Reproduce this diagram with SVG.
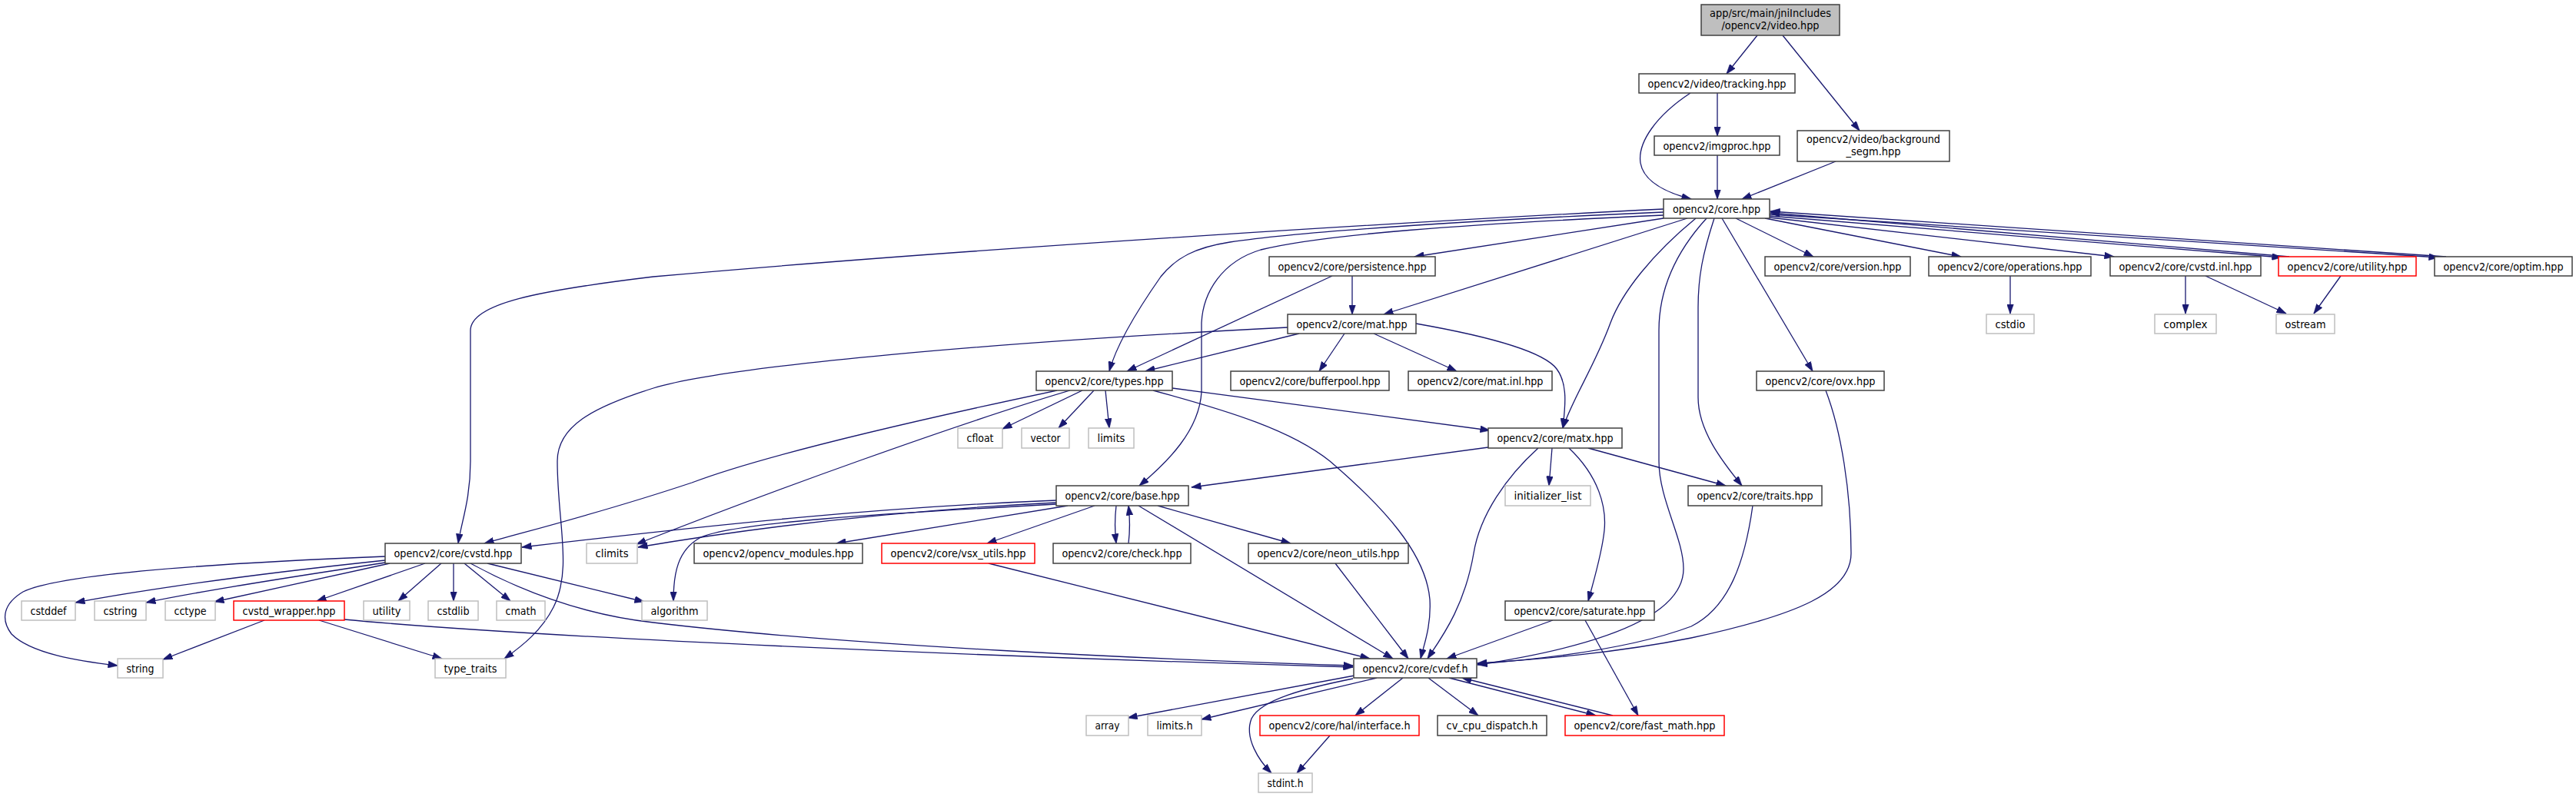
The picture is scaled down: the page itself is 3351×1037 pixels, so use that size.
<svg xmlns="http://www.w3.org/2000/svg" width="3351" height="1037" viewBox="0 0 3351 1037">
<style>
rect{fill:#fff;stroke:#404040;stroke-width:1.5}
.s rect{stroke:#bfbfbf}
.r rect{stroke:#ff0000}
.root rect{fill:#bfbfbf}
text{font-family:"DejaVu Sans Condensed","DejaVu Sans",sans-serif;font-stretch:condensed;font-size:14px;fill:#000;text-anchor:middle}
#edges path{fill:none;stroke:#191970;stroke-width:1.3;marker-end:url(#a)}
</style>
<defs>
<marker id="a" viewBox="0 0 13 9" refX="12.5" refY="4.5" markerWidth="13" markerHeight="9" markerUnits="userSpaceOnUse" orient="auto">
<path d="M0,0 L13,4.5 L0,9 z" fill="#191970" stroke="#191970" stroke-width="0.5"/>
</marker>
</defs>
<rect x="0" y="0" width="3351" height="1037" style="fill:#fff;stroke:none"/>
<g id="edges">
<path d="M2286,46 L2246,96"/>
<path d="M2319,46 L2419,170"/>
<path d="M2234,121 L2234,177"/>
<path d="M2199,121 C2155,150 2130,185 2134,212 C2138,235 2165,250 2200,259"/>
<path d="M2234,202 L2234,259"/>
<path d="M2388,210 L2266,259"/>
<path d="M2164,284 L1840,334"/>
<path d="M2195,284 L1800,409"/>
<path d="M2206,284 C2150,330 2110,380 2095,420 C2075,475 2045,520 2033,557"/>
<path d="M2220,284 C2178,330 2158,380 2158,430 L2158,600 C2158,650 2190,700 2190,740 C2190,790 2120,835 1922,865"/>
<path d="M2230,284 C2215,330 2209,360 2209,400 L2209,517 C2209,560 2240,600 2266,632"/>
<path d="M2240,284 L2358,483"/>
<path d="M2258,284 L2359,334"/>
<path d="M2296,284 L2551,334"/>
<path d="M2302,283 L2750,334"/>
<path d="M2302,281 L2968,335"/>
<path d="M2978,334 L2303,277"/>
<path d="M2302,279 L3172,335"/>
<path d="M3182,334 L2303,275"/>
<path d="M2164,272 C1900,285 1300,320 850,360 C700,378 612,395 612,430 L612,600 C612,650 600,680 596,707"/>
<path d="M2164,276 C1950,285 1700,300 1600,315 C1555,322 1530,335 1510,360 C1475,410 1452,450 1443,483"/>
<path d="M2164,280 C1900,292 1720,305 1640,325 C1590,340 1565,380 1563,420 L1563,510 C1560,560 1520,600 1482,632"/>
<path d="M1733,359 L1466,483"/>
<path d="M1759,359 L1759,409"/>
<path d="M1690,434 L1490,483"/>
<path d="M1675,426 C1300,445 950,475 850,505 C770,530 725,555 725,600 C725,680 745,740 720,790 C705,820 680,840 656,857"/>
<path d="M1749,434 L1716,483"/>
<path d="M1787,434 L1895,483"/>
<path d="M1842,421 C1950,440 2010,460 2025,480 C2040,500 2036,530 2033,557"/>
<path d="M1408,508 L1304,558"/>
<path d="M1423,508 L1377,557"/>
<path d="M1438,508 L1443,557"/>
<path d="M1392,508 C1250,550 1000,640 828,708"/>
<path d="M1375,508 C1200,545 1000,590 900,628 C780,668 690,690 630,707"/>
<path d="M1525,505 L1938,560"/>
<path d="M1500,508 C1600,535 1680,560 1730,600 C1800,660 1855,720 1860,780 C1862,815 1852,840 1848,857"/>
<path d="M1936,582 L1550,634"/>
<path d="M2019,583 L2015,632"/>
<path d="M2041,583 C2080,620 2090,660 2087,690 C2084,720 2072,760 2066,782"/>
<path d="M2066,583 L2245,632"/>
<path d="M2001,583 C1960,620 1925,670 1917,720 C1905,790 1875,830 1857,857"/>
<path d="M1374,651 C1150,660 950,680 679,712"/>
<path d="M1374,654 C1150,665 960,690 830,712"/>
<path d="M1374,656 C1150,668 950,680 910,700 C882,716 876,745 876,782"/>
<path d="M1389,658 L1088,707"/>
<path d="M1424,658 L1284,707"/>
<path d="M1452,658 C1450,675 1450,690 1452,707"/>
<path d="M1468,707 C1470,690 1470,675 1468,658"/>
<path d="M1481,658 L1812,857"/>
<path d="M1506,658 L1679,707"/>
<path d="M1286,733 L1782,857"/>
<path d="M1737,733 L1832,857"/>
<path d="M2020,807 L1882,857"/>
<path d="M2062,807 L2131,931"/>
<path d="M2280,658 C2270,730 2250,790 2200,815 C2120,845 2000,858 1922,864"/>
<path d="M2375,508 C2395,560 2408,640 2408,720 C2408,770 2340,800 2200,830 C2100,850 2000,858 1922,863"/>
<path d="M1885,882 L2076,931"/>
<path d="M2098,931 L1902,882"/>
<path d="M1825,882 L1763,931"/>
<path d="M1858,882 L1923,931"/>
<path d="M1762,879 L1467,934"/>
<path d="M1791,882 L1563,936"/>
<path d="M1760,883 C1700,895 1640,910 1628,935 C1618,960 1638,990 1654,1006"/>
<path d="M1730,957 L1687,1006"/>
<path d="M501,724 C300,732 80,745 30,770 C5,785 0,805 15,825 C40,850 100,860 153,866"/>
<path d="M501,729 C350,745 200,765 98,784"/>
<path d="M501,732 C400,748 280,765 190,784"/>
<path d="M507,733 L279,783"/>
<path d="M553,733 L412,782"/>
<path d="M574,733 L518,782"/>
<path d="M590,733 L590,782"/>
<path d="M604,733 L664,782"/>
<path d="M634,733 L838,783"/>
<path d="M612,733 C680,770 760,800 850,810 C1100,840 1500,858 1760,866"/>
<path d="M448,806 C700,830 1300,855 1760,868"/>
<path d="M344,807 L212,858"/>
<path d="M415,807 L575,857"/>
<path d="M2615,359 L2615,408"/>
<path d="M2843,359 L2843,408"/>
<path d="M2869,359 L2974,408"/>
<path d="M3045,359 L3010,408"/>
</g>
<g id="n0" class="root"><rect x="2213" y="6" width="180" height="40"/><text x="2303" y="22" textLength="158" lengthAdjust="spacingAndGlyphs">app/src/main/jniIncludes</text><text x="2303" y="38" textLength="127" lengthAdjust="spacingAndGlyphs">/opencv2/video.hpp</text></g>
<g id="n1"><rect x="2132" y="96" width="203" height="25"/><text x="2233.5" y="113.5" textLength="180" lengthAdjust="spacingAndGlyphs">opencv2/video/tracking.hpp</text></g>
<g id="n2"><rect x="2152" y="177" width="163" height="25"/><text x="2233.5" y="194.5" textLength="140" lengthAdjust="spacingAndGlyphs">opencv2/imgproc.hpp</text></g>
<g id="n3"><rect x="2338" y="170" width="198" height="40"/><text x="2437" y="186" textLength="174" lengthAdjust="spacingAndGlyphs">opencv2/video/background</text><text x="2437" y="202" textLength="71" lengthAdjust="spacingAndGlyphs">_segm.hpp</text></g>
<g id="n4"><rect x="2164" y="259" width="138" height="25"/><text x="2233" y="276.5" textLength="114" lengthAdjust="spacingAndGlyphs">opencv2/core.hpp</text></g>
<g id="n5"><rect x="1651" y="334" width="216" height="25"/><text x="1759" y="351.5" textLength="193" lengthAdjust="spacingAndGlyphs">opencv2/core/persistence.hpp</text></g>
<g id="n6"><rect x="2296" y="334" width="189" height="25"/><text x="2390.5" y="351.5" textLength="166" lengthAdjust="spacingAndGlyphs">opencv2/core/version.hpp</text></g>
<g id="n7"><rect x="2509" y="334" width="211" height="25"/><text x="2614.5" y="351.5" textLength="188" lengthAdjust="spacingAndGlyphs">opencv2/core/operations.hpp</text></g>
<g id="n8"><rect x="2745" y="334" width="196" height="25"/><text x="2843" y="351.5" textLength="173" lengthAdjust="spacingAndGlyphs">opencv2/core/cvstd.inl.hpp</text></g>
<g id="n9" class="r"><rect x="2964" y="334" width="179" height="25"/><text x="3053.5" y="351.5" textLength="156" lengthAdjust="spacingAndGlyphs">opencv2/core/utility.hpp</text></g>
<g id="n10"><rect x="3167" y="334" width="179" height="25"/><text x="3256.5" y="351.5" textLength="156" lengthAdjust="spacingAndGlyphs">opencv2/core/optim.hpp</text></g>
<g id="n11"><rect x="1675" y="409" width="167" height="25"/><text x="1758.5" y="426.5" textLength="144" lengthAdjust="spacingAndGlyphs">opencv2/core/mat.hpp</text></g>
<g id="n12" class="s"><rect x="2584" y="409" width="62" height="25"/><text x="2615" y="426.5" textLength="39" lengthAdjust="spacingAndGlyphs">cstdio</text></g>
<g id="n13" class="s"><rect x="2803" y="409" width="80" height="25"/><text x="2843" y="426.5" textLength="57" lengthAdjust="spacingAndGlyphs">complex</text></g>
<g id="n14" class="s"><rect x="2961" y="409" width="76" height="25"/><text x="2999" y="426.5" textLength="53" lengthAdjust="spacingAndGlyphs">ostream</text></g>
<g id="n15"><rect x="1348" y="483" width="177" height="25"/><text x="1436.5" y="500.5" textLength="154" lengthAdjust="spacingAndGlyphs">opencv2/core/types.hpp</text></g>
<g id="n16"><rect x="1601" y="483" width="206" height="25"/><text x="1704" y="500.5" textLength="183" lengthAdjust="spacingAndGlyphs">opencv2/core/bufferpool.hpp</text></g>
<g id="n17"><rect x="1832" y="483" width="187" height="25"/><text x="1925.5" y="500.5" textLength="164" lengthAdjust="spacingAndGlyphs">opencv2/core/mat.inl.hpp</text></g>
<g id="n18"><rect x="2285" y="483" width="166" height="25"/><text x="2368" y="500.5" textLength="143" lengthAdjust="spacingAndGlyphs">opencv2/core/ovx.hpp</text></g>
<g id="n19" class="s"><rect x="1246" y="557" width="58" height="26"/><text x="1275" y="575" textLength="35" lengthAdjust="spacingAndGlyphs">cfloat</text></g>
<g id="n20" class="s"><rect x="1329" y="557" width="62" height="26"/><text x="1360" y="575" textLength="39" lengthAdjust="spacingAndGlyphs">vector</text></g>
<g id="n21" class="s"><rect x="1416" y="557" width="59" height="26"/><text x="1445.5" y="575" textLength="36" lengthAdjust="spacingAndGlyphs">limits</text></g>
<g id="n22"><rect x="1936" y="557" width="174" height="26"/><text x="2023" y="575" textLength="151" lengthAdjust="spacingAndGlyphs">opencv2/core/matx.hpp</text></g>
<g id="n23"><rect x="1374" y="632" width="172" height="26"/><text x="1460" y="650" textLength="149" lengthAdjust="spacingAndGlyphs">opencv2/core/base.hpp</text></g>
<g id="n24" class="s"><rect x="1958" y="632" width="111" height="26"/><text x="2013.5" y="650" textLength="88" lengthAdjust="spacingAndGlyphs">initializer_list</text></g>
<g id="n25"><rect x="2196" y="632" width="174" height="26"/><text x="2283" y="650" textLength="151" lengthAdjust="spacingAndGlyphs">opencv2/core/traits.hpp</text></g>
<g id="n26"><rect x="501" y="707" width="177" height="26"/><text x="589.5" y="725" textLength="154" lengthAdjust="spacingAndGlyphs">opencv2/core/cvstd.hpp</text></g>
<g id="n27" class="s"><rect x="763" y="707" width="66" height="26"/><text x="796" y="725" textLength="43" lengthAdjust="spacingAndGlyphs">climits</text></g>
<g id="n28"><rect x="903" y="707" width="219" height="26"/><text x="1012.5" y="725" textLength="196" lengthAdjust="spacingAndGlyphs">opencv2/opencv_modules.hpp</text></g>
<g id="n29" class="r"><rect x="1147" y="707" width="199" height="26"/><text x="1246.5" y="725" textLength="176" lengthAdjust="spacingAndGlyphs">opencv2/core/vsx_utils.hpp</text></g>
<g id="n30"><rect x="1370" y="707" width="179" height="26"/><text x="1459.5" y="725" textLength="156" lengthAdjust="spacingAndGlyphs">opencv2/core/check.hpp</text></g>
<g id="n31"><rect x="1624" y="707" width="208" height="26"/><text x="1728" y="725" textLength="185" lengthAdjust="spacingAndGlyphs">opencv2/core/neon_utils.hpp</text></g>
<g id="n32" class="s"><rect x="28" y="782" width="70" height="25"/><text x="63" y="799.5" textLength="47" lengthAdjust="spacingAndGlyphs">cstddef</text></g>
<g id="n33" class="s"><rect x="123" y="782" width="67" height="25"/><text x="156.5" y="799.5" textLength="44" lengthAdjust="spacingAndGlyphs">cstring</text></g>
<g id="n34" class="s"><rect x="215" y="782" width="65" height="25"/><text x="247.5" y="799.5" textLength="42" lengthAdjust="spacingAndGlyphs">cctype</text></g>
<g id="n35" class="r"><rect x="304" y="782" width="144" height="25"/><text x="376" y="799.5" textLength="121" lengthAdjust="spacingAndGlyphs">cvstd_wrapper.hpp</text></g>
<g id="n36" class="s"><rect x="473" y="782" width="60" height="25"/><text x="503" y="799.5" textLength="37" lengthAdjust="spacingAndGlyphs">utility</text></g>
<g id="n37" class="s"><rect x="557" y="782" width="65" height="25"/><text x="589.5" y="799.5" textLength="42" lengthAdjust="spacingAndGlyphs">cstdlib</text></g>
<g id="n38" class="s"><rect x="646" y="782" width="63" height="25"/><text x="677.5" y="799.5" textLength="40" lengthAdjust="spacingAndGlyphs">cmath</text></g>
<g id="n39" class="s"><rect x="835" y="782" width="85" height="25"/><text x="877.5" y="799.5" textLength="62" lengthAdjust="spacingAndGlyphs">algorithm</text></g>
<g id="n40"><rect x="1958" y="782" width="194" height="25"/><text x="2055" y="799.5" textLength="171" lengthAdjust="spacingAndGlyphs">opencv2/core/saturate.hpp</text></g>
<g id="n41" class="s"><rect x="153" y="857" width="59" height="25"/><text x="182.5" y="874.5" textLength="36" lengthAdjust="spacingAndGlyphs">string</text></g>
<g id="n42" class="s"><rect x="566" y="857" width="92" height="25"/><text x="612" y="874.5" textLength="69" lengthAdjust="spacingAndGlyphs">type_traits</text></g>
<g id="n43"><rect x="1761" y="857" width="160" height="25"/><text x="1841" y="874.5" textLength="137" lengthAdjust="spacingAndGlyphs">opencv2/core/cvdef.h</text></g>
<g id="n44" class="s"><rect x="1413" y="931" width="55" height="26"/><text x="1440.5" y="949" textLength="32" lengthAdjust="spacingAndGlyphs">array</text></g>
<g id="n45" class="s"><rect x="1493" y="931" width="70" height="26"/><text x="1528" y="949" textLength="47" lengthAdjust="spacingAndGlyphs">limits.h</text></g>
<g id="n46" class="r"><rect x="1639" y="931" width="207" height="26"/><text x="1742.5" y="949" textLength="184" lengthAdjust="spacingAndGlyphs">opencv2/core/hal/interface.h</text></g>
<g id="n47"><rect x="1870" y="931" width="142" height="26"/><text x="1941" y="949" textLength="119" lengthAdjust="spacingAndGlyphs">cv_cpu_dispatch.h</text></g>
<g id="n48" class="r"><rect x="2036" y="931" width="207" height="26"/><text x="2139.5" y="949" textLength="184" lengthAdjust="spacingAndGlyphs">opencv2/core/fast_math.hpp</text></g>
<g id="n49" class="s"><rect x="1637" y="1006" width="70" height="25"/><text x="1672" y="1023.5" textLength="47" lengthAdjust="spacingAndGlyphs">stdint.h</text></g>
</svg>
